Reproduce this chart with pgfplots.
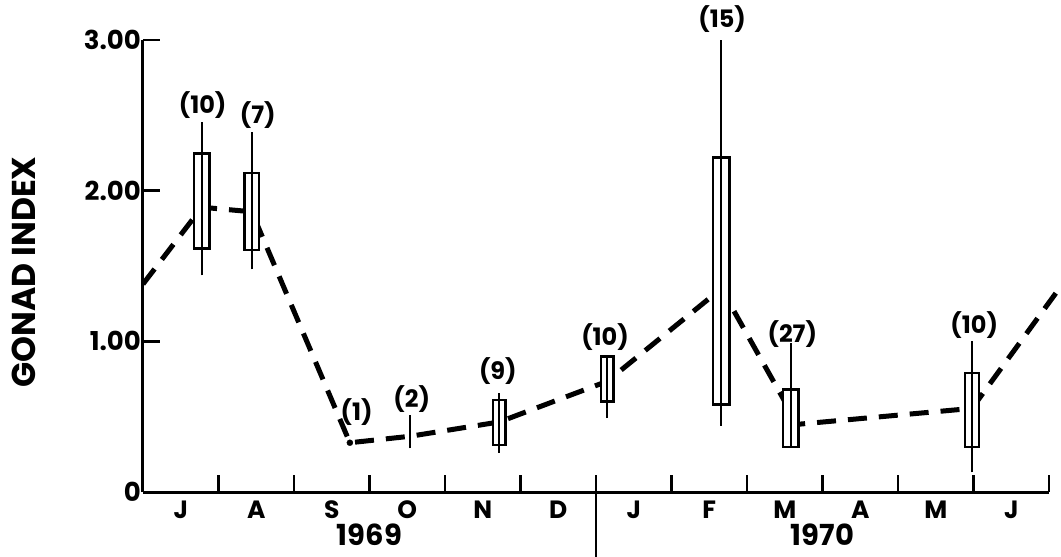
\documentclass[border=0pt]{standalone}
\usepackage{fontspec}
\setmainfont{Poppins}
\usepackage{pgfplots}
\pgfplotsset{compat=1.18}
\begin{document}
\begin{tikzpicture}
\begin{axis}[
  at={(0,0)}, anchor=south west,
  scale only axis, width=906pt, height=452pt,
  xmin=0, xmax=12, ymin=0, ymax=3,
  axis lines=left,
  axis line style={-, line width=3pt, black},
  clip=false,
  tick align=inside,
  major tick length=0pt,
  minor tick length=17pt,
  xtick={0.5,1.5,...,11.5},
  xticklabels={J,A,S,O,N,D,J,F,M,A,M,J},
  minor xtick={1,...,12},
  ytick={0,1,2,3},
  yticklabels={0,1.00,2.00,3.00},
  minor ytick={1,2,3},
  minor tick style={line width=2.8pt, black},
  xticklabel style={font=\bfseries\fontsize{25}{25}\selectfont, yshift=-5pt},
  yticklabel style={font=\bfseries\fontsize{26}{26}\selectfont, inner sep=2pt},
]
% dashed mean line
\addplot[black, line width=5pt, dash pattern=on 19pt off 12pt] coordinates {
 (0,1.38) (0.78,1.89) (1.44,1.86) (2.74,0.327) (3.54,0.37) (4.72,0.465)
 (6.15,0.735) (7.66,1.35) (8.58,0.53) (8.58,0.445) (10.98,0.555) (12.12,1.34)};
% boxes
\addplot[black, fill=white, line width=2.4pt] coordinates {(0.677,1.615) (0.883,1.615) (0.883,2.246) (0.677,2.246)} -- cycle;
\addplot[black, fill=white, line width=2.4pt] coordinates {(1.344,1.607) (1.536,1.607) (1.536,2.116) (1.344,2.116)} -- cycle;
\addplot[black, fill=white, line width=2.4pt] coordinates {(4.637,0.31) (4.803,0.31) (4.803,0.61) (4.637,0.61)} -- cycle;
\addplot[black, fill=white, line width=2.4pt] coordinates {(6.067,0.60) (6.233,0.60) (6.233,0.90) (6.067,0.90)} -- cycle;
\addplot[black, fill=white, line width=2.4pt] coordinates {(7.551,0.58) (7.769,0.58) (7.769,2.22) (7.551,2.22)} -- cycle;
\addplot[black, fill=white, line width=2.4pt] coordinates {(8.477,0.30) (8.683,0.30) (8.683,0.68) (8.477,0.68)} -- cycle;
\addplot[black, fill=white, line width=2.4pt] coordinates {(10.884,0.30) (11.076,0.30) (11.076,0.79) (10.884,0.79)} -- cycle;
% whiskers (ranges)
\addplot[black, line width=2.2pt] coordinates {(0.78,1.438) (0.78,2.456)};
\addplot[black, line width=2.2pt] coordinates {(1.44,1.478) (1.44,2.387)};
\addplot[black, line width=2.2pt] coordinates {(3.54,0.29) (3.54,0.51)};
\addplot[black, line width=2.2pt] coordinates {(4.72,0.26) (4.72,0.66)};
\addplot[black, line width=2.2pt] coordinates {(6.15,0.49) (6.15,0.90)};
\addplot[black, line width=2.2pt] coordinates {(7.66,0.44) (7.66,3.00)};
\addplot[black, line width=2.2pt] coordinates {(8.58,0.30) (8.58,0.99)};
\addplot[black, line width=2.2pt] coordinates {(10.98,0.13) (10.98,1.00)};
% single sample point
\addplot[only marks, mark=*, mark size=3pt, black] coordinates {(2.74,0.327)};
% sample sizes
\begin{scope}[every node/.style={font=\bfseries\fontsize{24}{24}\selectfont, inner sep=0pt}]
\node at (axis cs:0.79,2.57) {(10)};
\node at (axis cs:1.52,2.50) {(7)};
\node at (axis cs:2.83,0.53) {(1)};
\node at (axis cs:3.56,0.62) {(2)};
\node at (axis cs:4.70,0.80) {(9)};
\node at (axis cs:6.12,1.03) {(10)};
\node at (axis cs:7.67,3.14) {(15)};
\node at (axis cs:8.60,1.05) {(27)};
\node at (axis cs:11.01,1.11) {(10)};
\end{scope}
% year separator and labels
\draw[black, line width=2.8pt] (axis cs:6,0) -- ++(0pt,-70pt);
\node[font=\bfseries\fontsize{29}{29}\selectfont, inner sep=0pt] at ([yshift=-43pt]axis cs:3,0) {1969};
\node[font=\bfseries\fontsize{29}{29}\selectfont, inner sep=0pt] at ([yshift=-43pt]axis cs:9,0) {1970};
\node[font=\bfseries\fontsize{33}{33}\selectfont, rotate=90, inner sep=0pt] at ([xshift=-119pt]axis cs:0,1.46) {GONAD INDEX};
\end{axis}
\pgfresetboundingbox
\path[use as bounding box] (-143pt,-65pt) rectangle (918pt,492pt);
\end{tikzpicture}
\end{document}
